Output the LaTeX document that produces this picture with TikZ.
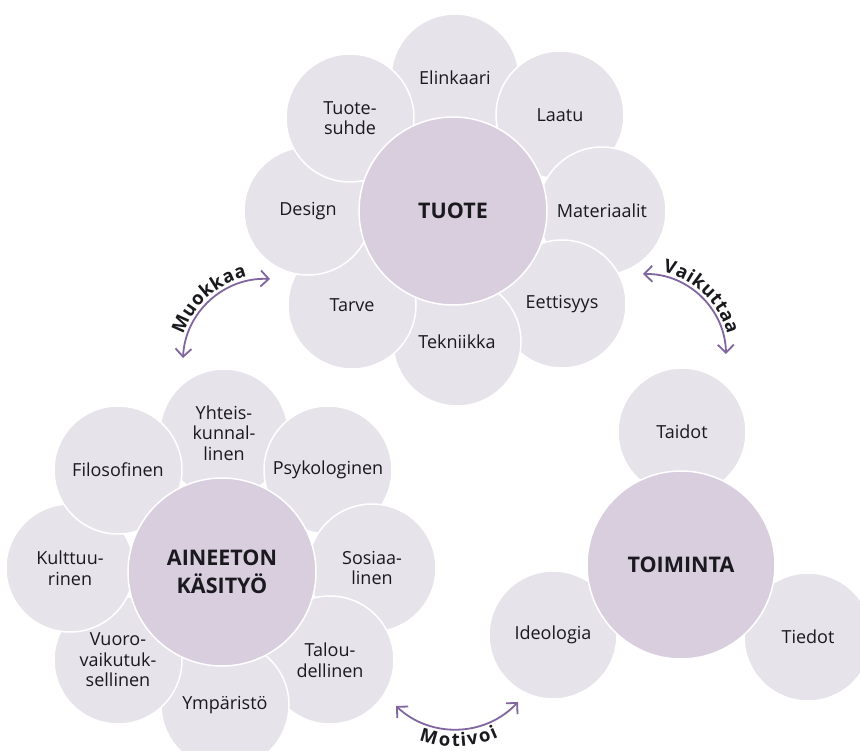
\documentclass[tikz,border=0pt]{standalone}
\usepackage{fontspec}
\setmainfont{Open Sans}
\usetikzlibrary{arrows.meta,decorations.text}
\definecolor{outerfill}{RGB}{231,227,235}
\definecolor{innerfill}{RGB}{216,206,222}
\definecolor{arrowc}{RGB}{128,102,158}
\definecolor{txt}{RGB}{25,25,30}
\newcommand\arrowlabelfont{\fontsize{18.5}{20}\selectfont\bfseries}
\tikzset{
  petal/.style={circle, fill=outerfill, draw=white, line width=1.5pt, minimum size=128pt,
    inner sep=0pt, align=center, text=txt, font=\fontsize{18}{20.5}\selectfont},
  hub/.style={circle, fill=innerfill, draw=white, line width=1.5pt, minimum size=188pt,
    inner sep=0pt, align=center, text=txt, font=\fontsize{21.5}{28}\selectfont\bfseries},
  link/.style={draw=arrowc, line width=1.8pt, >={Straight Barb[length=8pt,width=16pt]}, <->},
}
\begin{document}
\begin{tikzpicture}[x=1pt,y=-1pt]
\useasboundingbox[fill=white] (0,0) rectangle (860,751);
% TUOTE cluster
\node[petal] (el) at (455,78)  {Elinkaari};
\node[petal] (la) at (560,115) {Laatu};
\node[petal] (ma) at (602,211) {Materiaalit};
\node[petal] (ee) at (562,304) {Eettisyys};
\node[petal] (te) at (457,342) {Tekniikka};
\node[petal] (ta) at (352,305) {Tarve};
\node[petal] (de) at (308,211) {Design};
\node[petal] (ts) at (350,118) {Tuote-\\suhde};
\node[hub] (tuote) at (453,211) {TUOTE};
% AINEETON KASITYO cluster
\node[petal] (yh) at (224,433) {Yhteis-\\kunnal-\\linen};
\node[petal] (ps) at (328,470) {Psykologinen};
\node[petal] (so) at (372,568) {Sosiaa-\\linen};
\node[petal] (tl) at (330,660) {Talou-\\dellinen};
\node[petal] (ym) at (225,705) {Ympäristö};
\node[petal] (vu) at (118,660) {Vuoro-\\vaikutuk-\\sellinen};
\node[petal] (ku) at (70,568)  {Kulttuu-\\rinen};
\node[petal] (fi) at (118,470) {Filosofinen};
\node[hub] (ak) at (222,572) {AINEETON\\KÄSITYÖ};
% TOIMINTA cluster
\node[petal] (tai) at (682,432) {Taidot};
\node[petal] (ide) at (553,635) {Ideologia};
\node[petal] (tie) at (808,637) {Tiedot};
\node[hub] (toi) at (681,565) {TOIMINTA};
% arrows
\coordinate (m1) at (270,279);
\coordinate (m2) at (183,358);
\coordinate (v1) at (643,274);
\coordinate (v2) at (726,354);
\coordinate (o1) at (396,706);
\coordinate (o2) at (518,702);
\draw[link] (m2) to[bend left=45] (m1);
\draw[link] (v1) to[bend left=45] (v2);
\draw[link] (o1) to[bend right=45] (o2);
\path[decorate, decoration={text along path, raise=4pt, text color=txt,
   text={|\arrowlabelfont|Muokkaa}, text align=center}]
   (m2) to[bend left=45] (m1);
\path[decorate, decoration={text along path, raise=4pt, text color=txt,
   text={|\arrowlabelfont|Vaikuttaa}, text align=center}]
   (v1) to[bend left=45] (v2);
\path[decorate, decoration={text along path, raise=-17pt, text color=txt,
   text={|\arrowlabelfont|Motivoi}, text align=center}]
   (o1) to[bend right=45] (o2);
\end{tikzpicture}
\end{document}
